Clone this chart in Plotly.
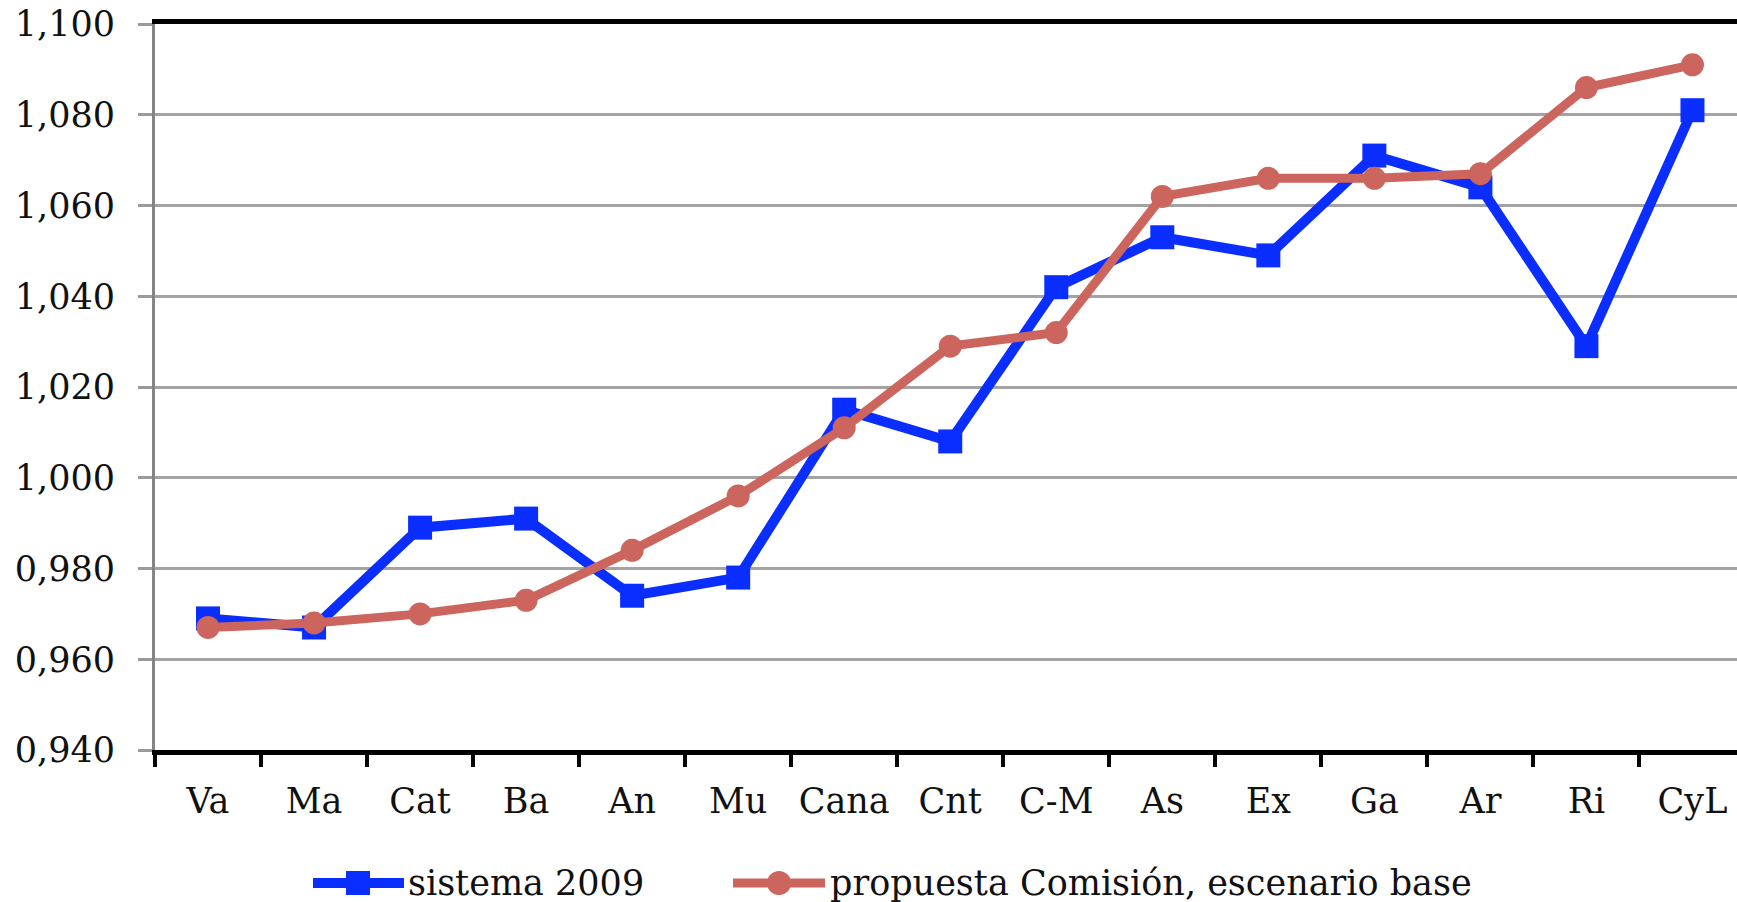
import plotly.graph_objects as go

# Regions (abbreviated) and the two index series
regiones = ["Va", "Ma", "Cat", "Ba", "An", "Mu", "Cana", "Cnt", "C-M",
            "As", "Ex", "Ga", "Ar", "Ri", "CyL"]
sistema_2009 = [0.969, 0.967, 0.989, 0.991, 0.974, 0.978, 1.015, 1.008, 1.042,
                1.053, 1.049, 1.071, 1.064, 1.029, 1.081]
propuesta_comision = [0.967, 0.968, 0.970, 0.973, 0.984, 0.996, 1.011, 1.029, 1.032,
                      1.062, 1.066, 1.066, 1.067, 1.086, 1.091]

y_ticks = [0.94, 0.96, 0.98, 1.00, 1.02, 1.04, 1.06, 1.08, 1.10]
y_tick_text = ["0,940", "0,960", "0,980", "1,000", "1,020", "1,040", "1,060", "1,080", "1,100"]

nombre_azul = "sistema 2009"
nombre_rojo = "propuesta Comisión, escenario base"

AZUL = "#0A2EFF"
ROJO = "#CC655D"
FONT = "DejaVu Serif"
TXT = "#111111"
FS = 35

W, H = 1737, 902
ML, MR, MT, MB = 155, 0, 24, 152

fig = go.Figure()
fig.add_trace(go.Scatter(
    x=regiones, y=sistema_2009, name=nombre_azul, mode="lines+markers",
    line=dict(color=AZUL, width=10),
    marker=dict(symbol="square", size=24, color=AZUL),
    showlegend=False, cliponaxis=False,
))
fig.add_trace(go.Scatter(
    x=regiones, y=propuesta_comision, name=nombre_rojo, mode="lines+markers",
    line=dict(color=ROJO, width=9),
    marker=dict(symbol="circle", size=23, color=ROJO),
    showlegend=False, cliponaxis=False,
))

# Legend drawn beneath the plot: line + marker sample followed by the label
pw = W - ML - MR
ph = H - MT - MB


def px_x(px):
    return (px - ML) / pw


def px_y(py):
    return (H - MB - py) / ph


leg_y = 883
items = [
    (313, 404, 358, "square", AZUL, 10, 406, nombre_azul),
    (733, 825, 779, "circle", ROJO, 9, 828, nombre_rojo),
]
shapes = []
annotations = []
for x0, x1, xm, sym, col, lw, xt, label in items:
    shapes.append(dict(type="line", xref="paper", yref="paper",
                       x0=px_x(x0), x1=px_x(x1), y0=px_y(leg_y), y1=px_y(leg_y),
                       line=dict(color=col, width=lw)))
    shapes.append(dict(type="rect" if sym == "square" else "circle",
                       xref="paper", yref="paper",
                       xsizemode="pixel", ysizemode="pixel",
                       xanchor=px_x(xm), yanchor=px_y(leg_y),
                       x0=-12, x1=12, y0=-12, y1=12,
                       fillcolor=col, line=dict(width=0)))
    annotations.append(dict(xref="paper", yref="paper", x=px_x(xt), y=px_y(leg_y),
                            xanchor="left", yanchor="middle", showarrow=False,
                            text=label, font=dict(family=FONT, size=FS, color=TXT)))

fig.update_layout(
    width=W, height=H,
    margin=dict(l=ML, r=MR, t=MT, b=MB, pad=0),
    paper_bgcolor="white", plot_bgcolor="white",
    showlegend=False,
    shapes=shapes, annotations=annotations,
    font=dict(family=FONT, size=FS, color=TXT),
)
fig.update_xaxes(
    type="category", range=[-0.5, 14.42],
    showline=True, linecolor="black", linewidth=5, mirror=True,
    ticks="outside", tickson="boundaries", ticklen=12, tickwidth=4, tickcolor="black",
    showgrid=False, ticklabelstandoff=16,
    tickfont=dict(family=FONT, size=FS, color=TXT),
)
fig.update_yaxes(
    range=[0.94, 1.10], tickvals=y_ticks, ticktext=y_tick_text,
    showline=True, linecolor="#858585", linewidth=3,
    ticks="outside", ticklen=14, tickwidth=3, tickcolor="#9a9a9a",
    showgrid=True, gridcolor="#a3a3a3", gridwidth=2.5,
    zeroline=False, ticklabelstandoff=16,
    tickfont=dict(family=FONT, size=FS, color=TXT),
)

fig.write_html("out.html")
